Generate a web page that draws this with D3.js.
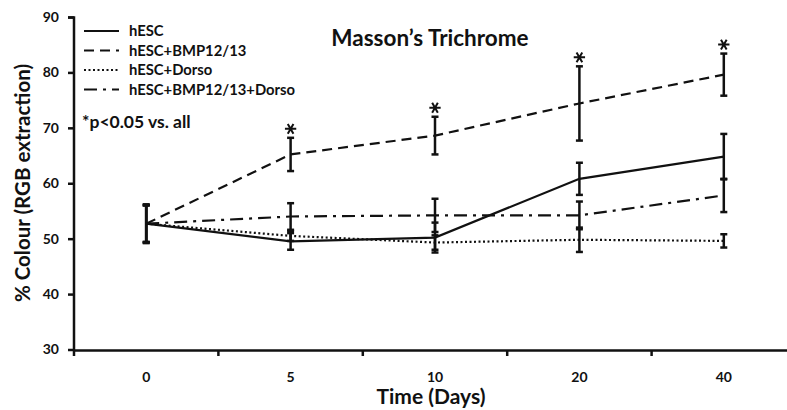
<!DOCTYPE html>
<html><head><meta charset="utf-8">
<script src="https://cdn.jsdelivr.net/npm/d3@7"></script>
<style>body{margin:0;background:#fff}svg text{font-family:Lato,"Open Sans",sans-serif;font-weight:bold;fill:#111}</style>
</head><body><svg id="c" width="787" height="410"></svg>
<script>
const categories = ["0","5","10","20","40"];
const seriesNames = ["hESC","hESC+BMP12/13","hESC+Dorso","hESC+BMP12/13+Dorso"];
const hESC      = [52.7, 49.5, 50.2, 60.8, 64.8];
const hESC_err  = [3.5, 1.5, 2.7, 2.9, 4.1];
const bmp       = [52.7, 65.2, 68.6, 74.4, 79.6];
const bmp_err   = [3.3, 3.0, 3.4, 6.7, 3.8];
const dorso     = [52.7, 50.5, 49.3, 49.8, 49.6];
const dorso_err = [3.3, 0.9, 1.3, 2.2, 1.2];
const combo     = [52.7, 54.0, 54.2, 54.2, 57.8];
const combo_err = [3.4, 2.4, 3.0, 2.5, 3.0];
const significant = [false, true, true, true, true];
const yTicks = [30,40,50,60,70,80,90];

const svg = d3.select("#c");
const x = d3.scaleBand().domain(categories).range([74, 796]);
const y = d3.scaleLinear().domain([30, 90]).range([349.5, 17]);

// axes
const yAxis = svg.append("g").attr("transform","translate(74,0)")
  .call(d3.axisLeft(y).tickValues(yTicks).tickSize(6).tickPadding(9).tickFormat(d3.format("d")));
yAxis.select(".domain").attr("stroke","#111").attr("stroke-width",2.5).attr("d","M-6,17.5H0V350");
yAxis.selectAll(".tick line").attr("stroke","#111").attr("stroke-width",2.5);
yAxis.selectAll(".tick text").style("font-size","14px");

const xAxis = svg.append("g").attr("transform","translate(0,350)")
  .call(d3.axisBottom(x).tickSize(0).tickPadding(22));
xAxis.select(".domain").attr("stroke","#111").attr("stroke-width",2.5);
xAxis.selectAll(".tick text").style("font-size","14px");
const bounds = categories.map(c => x(c));
xAxis.selectAll(".bt").data(bounds).enter().append("line")
  .attr("x1",d=>d).attr("x2",d=>d).attr("y1",0).attr("y2",6)
  .attr("stroke","#111").attr("stroke-width",2.5);

// series
const series = [
  {name: seriesNames[0], v: hESC, e: hESC_err, dash: null},
  {name: seriesNames[1], v: bmp, e: bmp_err, dash: "10,6"},
  {name: seriesNames[2], v: dorso, e: dorso_err, dash: "2,2.5"},
  {name: seriesNames[3], v: combo, e: combo_err, dash: "13,6,3,6"}
];
const cx = c => x(c) + x.bandwidth()/2;
const line = d3.line().x((d,i)=>cx(categories[i])).y(d=>y(d));

series.forEach(s => {
  svg.append("path").datum(s.v).attr("d", line).attr("fill","none")
    .attr("stroke","#111").attr("stroke-width",2.2)
    .attr("stroke-dasharray", s.dash);
});
series.forEach(s => {
  const g = svg.append("g");
  s.v.forEach((v,i) => {
    const px = cx(categories[i]);
    const t = y(v + s.e[i]), b = y(v - s.e[i]);
    g.append("line").attr("x1",px).attr("x2",px).attr("y1",t).attr("y2",b).attr("stroke","#111").attr("stroke-width",2.5);
    [t,b].forEach(yy => g.append("line").attr("x1",px-3.5).attr("x2",px+3.5).attr("y1",yy).attr("y2",yy).attr("stroke","#111").attr("stroke-width",2.5));
  });
});
// asterisks (6-arm symbol)
const star = d3.symbol(d3.symbolAsterisk, 90);
bmp.forEach((v,i) => {
  if (!significant[i]) return;
  svg.append("path").attr("d", star())
    .attr("transform", `translate(${cx(categories[i])},${y(v + bmp_err[i]) - 9}) rotate(90)`)
    .attr("fill","none").attr("stroke","#111").attr("stroke-width",2);
});

// legend
const ly = [31, 50.5, 70, 89.5];
series.forEach((s,i) => {
  svg.append("line").attr("x1",84).attr("x2",119).attr("y1",ly[i]).attr("y2",ly[i])
    .attr("stroke","#111").attr("stroke-width",2.2).attr("stroke-dasharray", s.dash);
  svg.append("text").attr("x",129).attr("y",ly[i]).attr("dy","0.35em").style("font-size","14.8px").text(s.name);
});
svg.append("text").attr("x",82).attr("y",122).attr("dy","0.35em").style("font-size","17.5px").text("*p<0.05 vs. all");

// title and labels
svg.append("text").attr("x",430).attr("y",38).attr("dy","0.35em").attr("text-anchor","middle").style("font-size","22.5px").text("Masson\u2019s Trichrome");
svg.append("text").attr("x",431).attr("y",397).attr("dy","0.35em").attr("text-anchor","middle").style("font-size","21px").text("Time (Days)");
svg.append("text").attr("transform","translate(23,183) rotate(-90)").attr("dy","0.35em").attr("text-anchor","middle").style("font-size","20.5px").text("% Colour (RGB extraction)");
</script></body></html>
